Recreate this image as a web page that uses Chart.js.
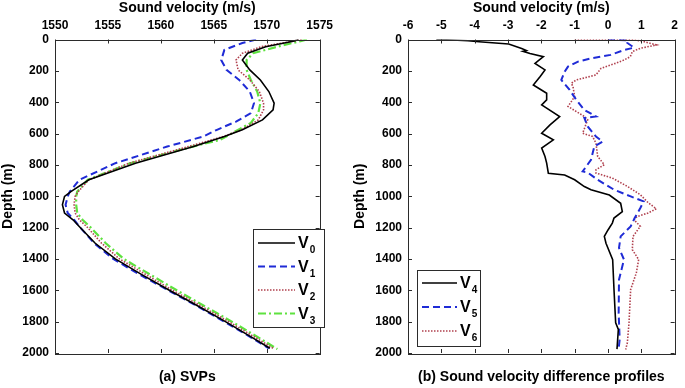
<!DOCTYPE html>
<html>
<head>
<meta charset="utf-8">
<script src="https://cdn.jsdelivr.net/npm/chart.js@4/dist/chart.umd.min.js"></script>
<style>
  body { margin: 0; background: #fff; }
  #wrap { position: relative; width: 685px; height: 388px; }
  canvas { position: absolute; top: 0; }
</style>
</head>
<body>
<div id="wrap">
  <canvas id="svpChart" width="340" height="388" style="left:0"></canvas>
  <canvas id="diffChart" width="345" height="388" style="left:340px"></canvas>
</div>
<script>
// (a) sound velocity profiles, depth in m, speed in m/s
const v0Depth = [0, 10, 46, 88, 131, 194, 258, 332, 406, 449, 513, 576, 619, 683, 789, 895, 970, 1001, 1054, 1107, 1150, 1201, 1300, 1400, 1500, 1600, 1700, 1800, 1900, 1970];
const v0Speed = [1573.0, 1572.6, 1569.9, 1568.2, 1567.7, 1568.4, 1569.4, 1570.2, 1570.7, 1570.6, 1569.6, 1567.7, 1566.0, 1563.1, 1557.6, 1553.2, 1551.5, 1550.9, 1550.7, 1550.9, 1551.7, 1552.4, 1553.8, 1555.7, 1558.2, 1560.8, 1563.5, 1566.1, 1568.6, 1570.3];

const v1Depth = [0, 22, 66, 131, 194, 258, 332, 406, 470, 524, 576, 619, 683, 789, 895, 970, 1001, 1054, 1107, 1150, 1201, 1300, 1400, 1500, 1600, 1700, 1800, 1900, 1970];
const v1Speed = [1569.0, 1567.7, 1566.0, 1565.7, 1566.2, 1567.4, 1568.4, 1568.8, 1568.5, 1567.1, 1565.3, 1564.0, 1560.6, 1555.7, 1552.3, 1551.4, 1551.2, 1551.0, 1551.2, 1551.8, 1552.4, 1553.7, 1555.5, 1558.0, 1560.7, 1563.4, 1566.0, 1568.5, 1570.2];

const v2Depth = [0, 10, 46, 88, 131, 194, 258, 332, 406, 449, 513, 576, 619, 683, 789, 895, 970, 1001, 1054, 1107, 1150, 1201, 1300, 1400, 1500, 1600, 1700, 1800, 1900, 1970];
const v2Speed = [1573.3, 1572.5, 1569.5, 1567.7, 1567.1, 1567.3, 1568.4, 1569.3, 1569.7, 1569.7, 1569.2, 1567.6, 1565.9, 1562.6, 1557.0, 1553.2, 1552.2, 1551.9, 1551.8, 1551.9, 1552.3, 1553.1, 1554.4, 1556.1, 1558.6, 1561.1, 1563.8, 1566.4, 1568.9, 1570.6];

const v3Depth = [0, 10, 46, 88, 131, 194, 258, 332, 406, 470, 532, 595, 640, 683, 789, 895, 970, 1001, 1054, 1107, 1150, 1201, 1300, 1400, 1500, 1600, 1700, 1800, 1900, 1975];
const v3Speed = [1573.8, 1573.2, 1571.0, 1568.7, 1568.1, 1568.1, 1568.5, 1569.1, 1569.4, 1569.2, 1568.5, 1566.8, 1565.6, 1563.0, 1557.1, 1553.1, 1552.1, 1552.0, 1552.0, 1552.1, 1552.6, 1553.4, 1554.8, 1556.5, 1559.0, 1561.5, 1564.1, 1566.7, 1569.2, 1571.0];

// (b) sound velocity difference profiles, m/s
const v4Depth = [0, 3, 8, 14, 29, 57, 70, 75, 89, 110, 152, 194, 237, 290, 343, 385, 417, 492, 545, 598, 640, 693, 746, 789, 853, 864, 895, 938, 959, 992, 1045, 1098, 1139, 1171, 1215, 1256, 1300, 1404, 1595, 1808, 1850, 1975];
const v4Diff = [-5.15, -4.67, -4.2, -3.87, -2.98, -2.59, -2.45, -2.55, -2.34, -1.94, -2.19, -1.89, -2.04, -2.24, -1.84, -1.84, -1.99, -1.45, -1.74, -1.99, -1.64, -1.99, -1.89, -1.84, -1.79, -1.30, -1.0, -0.71, -0.51, 0.04, 0.38, 0.43, 0.18, 0.13, 0.0, -0.11, -0.06, 0.14, 0.18, 0.23, 0.31, 0.27];

const v5Depth = [0, 5, 22, 52, 67, 98, 120, 141, 173, 205, 258, 322, 385, 449, 491, 500, 555, 619, 651, 682, 767, 842, 850, 895, 958, 1001, 1033, 1075, 1139, 1192, 1256, 1330, 1404, 1532, 1744, 1914, 1970];
const v5Diff = [0.0, 0.6, 0.58, 0.78, 0.48, 0.08, -0.51, -0.90, -1.20, -1.30, -1.40, -1.15, -0.95, -0.71, -0.36, -0.71, -0.61, -0.36, -0.16, -0.41, -0.51, -0.76, -0.60, -0.31, 0.18, 0.68, 1.07, 0.97, 0.80, 0.68, 0.38, 0.33, 0.48, 0.33, 0.32, 0.35, 0.32];

const v6Depth = [0, 0, 10, 35, 56, 77, 109, 131, 152, 184, 226, 258, 279, 301, 364, 396, 427, 491, 512, 598, 619, 662, 746, 799, 831, 852, 884, 937, 990, 1040, 1080, 1107, 1130, 1150, 1192, 1256, 1341, 1404, 1489, 1595, 1808, 1935, 1978];
const v6Diff = [-1.0, 0.7, 1.02, 1.45, 0.97, 0.73, 0.67, 0.48, 0.23, -0.21, -0.36, -0.95, -1.10, -1.05, -1.0, -1.1, -1.2, -0.71, -0.61, -0.76, -0.46, -0.36, -0.31, -0.11, -0.36, -0.36, 0.13, 0.58, 0.97, 1.2, 1.45, 1.2, 0.87, 0.78, 0.97, 0.75, 0.73, 0.92, 0.85, 0.68, 0.63, 0.58, 0.53];

const depthTicks = [0, 200, 400, 600, 800, 1000, 1200, 1400, 1600, 1800, 2000];
const svpTicks = [1550, 1555, 1560, 1565, 1570, 1575];
const diffTicks = [-6, -5, -4, -3, -2, -1, 0, 1, 2];

const FONT = "'Liberation Sans', Arial, Helvetica, sans-serif";

function points(xs, ys) {
    return ys.map((d, i) => ({ x: xs[i], y: d }));
}

// MATLAB style box, inward ticks and legend with subscripts
const boxPlugin = {
    id: 'matBox',
    afterDraw(chart, args, opts) {
        const { ctx, chartArea: a } = chart;
        const x = chart.scales.x, y = chart.scales.y;
        ctx.save();
        ctx.strokeStyle = '#2b2b2b';
        ctx.lineWidth = 1;
        ctx.strokeRect(Math.round(a.left) + 0.5, Math.round(a.top) + 0.5, Math.round(a.right - a.left), Math.round(a.bottom - a.top));
        ctx.beginPath();
        x.ticks.forEach(t => {
            const px = Math.round(x.getPixelForValue(t.value)) + 0.5;
            ctx.moveTo(px, a.top); ctx.lineTo(px, a.top + 4);
            ctx.moveTo(px, a.bottom); ctx.lineTo(px, a.bottom - 4);
        });
        y.ticks.forEach(t => {
            const py = Math.round(y.getPixelForValue(t.value)) + 0.5;
            ctx.moveTo(a.left, py); ctx.lineTo(a.left + 4, py);
            ctx.moveTo(a.right, py); ctx.lineTo(a.right - 4, py);
        });
        ctx.stroke();

        const lg = opts.legend;
        if (lg) {
            ctx.fillStyle = '#fff';
            ctx.fillRect(lg.x, lg.y, lg.w, lg.h);
            ctx.strokeStyle = '#2b2b2b';
            ctx.lineWidth = 1;
            ctx.strokeRect(lg.x + 0.5, lg.y + 0.5, lg.w, lg.h);
            chart.data.datasets.forEach((ds, i) => {
                const ry = lg.y + lg.first + i * lg.step;
                ctx.save();
                ctx.strokeStyle = ds.borderColor;
                ctx.lineWidth = ds.borderWidth;
                ctx.setLineDash(ds.borderDash || []);
                ctx.beginPath();
                ctx.moveTo(lg.x + 5, ry);
                ctx.lineTo(lg.x + 5 + lg.line, ry);
                ctx.stroke();
                ctx.restore();
                ctx.fillStyle = '#000';
                ctx.textBaseline = 'alphabetic';
                ctx.font = 'bold 16px ' + FONT;
                const tx = lg.x + 8 + lg.line;
                ctx.fillText('V', tx, ry + 5);
                const w = ctx.measureText('V').width;
                ctx.font = 'bold 10px ' + FONT;
                ctx.fillText(ds.sub, tx + w + 1, ry + 10);
            });
        }
        ctx.restore();
    }
};

function makeChart(id, datasets, o) {
    const ctx = document.getElementById(id).getContext('2d');
    return new Chart(ctx, {
        type: 'line',
        data: { datasets: datasets },
        plugins: [boxPlugin],
        options: {
            responsive: false,
            animation: false,
            layout: { padding: { left: 0, right: o.padRight, top: 0, bottom: 0 } },
            elements: { point: { radius: 0 }, line: { tension: 0 } },
            plugins: {
                legend: { display: false },
                tooltip: { enabled: false },
                matBox: { legend: o.legend }
            },
            scales: {
                x: {
                    type: 'linear',
                    position: 'top',
                    min: o.xTicks[0],
                    max: o.xTicks[o.xTicks.length - 1],
                    afterBuildTicks: s => { s.ticks = o.xTicks.map(v => ({ value: v })); },
                    afterFit: s => { s.height = 39.5; },
                    grid: { display: false, drawTicks: false },
                    border: { display: false },
                    ticks: { padding: 7, color: '#000', font: { family: FONT, size: 12, weight: 'bold' }, maxRotation: 0, callback: v => String(v) },
                    title: { display: true, text: 'Sound velocity (m/s)', color: '#000', padding: { top: 0, bottom: 0 }, font: { family: FONT, size: 14, weight: 'bold' } }
                },
                x2: {
                    type: 'linear',
                    axis: 'x',
                    position: 'bottom',
                    min: o.xTicks[0],
                    max: o.xTicks[o.xTicks.length - 1],
                    afterFit: s => { s.height = 35; },
                    grid: { display: false, drawTicks: false },
                    border: { display: false },
                    ticks: { display: false },
                    title: { display: true, text: o.caption, color: '#000', padding: { top: 0, bottom: 2 }, font: { family: FONT, size: 14, weight: 'bold' } }
                },
                y: {
                    type: 'linear',
                    reverse: true,
                    min: 0,
                    max: 2000,
                    afterBuildTicks: s => { s.ticks = depthTicks.map(v => ({ value: v })); },
                    afterFit: s => { s.width = o.yWidth; },
                    grid: { display: false, drawTicks: false },
                    border: { display: false },
                    ticks: { padding: 6, color: '#000', font: { family: FONT, size: 12, weight: 'bold' }, callback: v => String(v) },
                    title: { display: true, text: 'Depth (m)', color: '#000', padding: { top: o.yTitlePad, bottom: 0 }, font: { family: FONT, size: 14, weight: 'bold' } }
                }
            }
        }
    });
}

makeChart('svpChart', [
    { label: 'V0', sub: '0', data: points(v0Speed, v0Depth), borderColor: '#000000', borderWidth: 1.6 },
    { label: 'V1', sub: '1', data: points(v1Speed, v1Depth), borderColor: '#1f2bd6', borderWidth: 2, borderDash: [7, 4] },
    { label: 'V2', sub: '2', data: points(v2Speed, v2Depth), borderColor: '#b0404e', borderWidth: 1.6, borderDash: [1.5, 1.5] },
    { label: 'V3', sub: '3', data: points(v3Speed, v3Depth), borderColor: '#5ee23f', borderWidth: 2.2, borderDash: [8, 3, 2, 3] }
], {
    xTicks: svpTicks, caption: '(a) SVPs', padRight: 15, yWidth: 55, yTitlePad: 0,
    legend: { x: 253, y: 229, w: 71, h: 98, first: 14, step: 23.5, line: 37 }
});

makeChart('diffChart', [
    { label: 'V4', sub: '4', data: points(v4Diff, v4Depth), borderColor: '#000000', borderWidth: 1.6 },
    { label: 'V5', sub: '5', data: points(v5Diff, v5Depth), borderColor: '#1f2bd6', borderWidth: 2, borderDash: [7, 4] },
    { label: 'V6', sub: '6', data: points(v6Diff, v6Depth), borderColor: '#b0404e', borderWidth: 1.6, borderDash: [1.5, 1.5] }
], {
    xTicks: diffTicks, caption: '(b) Sound velocity difference profiles', padRight: 7, yWidth: 68, yTitlePad: 12,
    legend: { x: 77, y: 270, w: 63, h: 76, first: 13, step: 24, line: 35 }
});
</script>
</body>
</html>
